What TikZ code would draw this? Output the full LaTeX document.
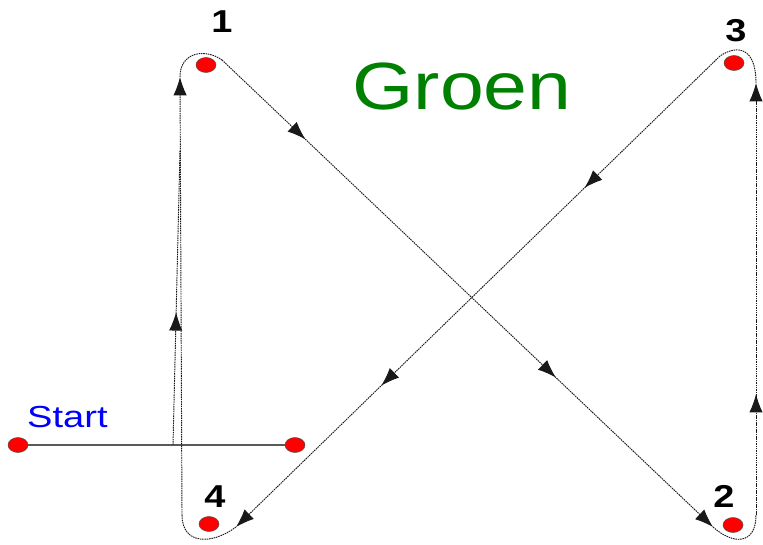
\documentclass[tikz,border=0pt]{standalone}
\usepackage{fontspec}
\setmainfont{Liberation Sans}
\usepackage{xcolor}
\usepackage{tikz}
\usetikzlibrary{arrows.meta,shapes.geometric,decorations.markings}

\begin{document}
\begin{tikzpicture}[
  x=0.03cm, y=-0.03cm,
  dot/.style={ellipse, draw=black!70, line width=0.4pt, fill=red, minimum width=0.6cm, minimum height=0.45cm, inner sep=0pt},
  num/.style={anchor=base, font=\fontsize{27}{27}\selectfont\bfseries},
  route/.style={draw=black!90, line width=0.8pt, dash pattern=on 1.3pt off 0.7pt},
  arrow/.style={-{Latex[length=5.5mm,width=4mm]}},
  midarrow/.style={postaction={decorate, decoration={markings, mark=at position #1 with {\arrow{Latex[length=5.5mm,width=4mm]}}}}},
  startline/.style={draw=black!65, line width=0.9pt},
]
\useasboundingbox (0,0) rectangle (763,545);

\node[dot] (start) at (18,445) {};
\node[dot] (end) at (295,445) {};
\node[dot] (p1) at (206,65) {};
\node[dot] (p2) at (733,525) {};
\node[dot] (p3) at (734,63) {};
\node[dot] (p4) at (209,524) {};

\node[num] (n1) at (222,33) {\scalebox{1.2}[1]{1}};
\node[num] (n2) at (724,507) {\scalebox{1.2}[1]{2}};
\node[num] (n3) at (736,42) {\scalebox{1.2}[1]{3}};
\node[num] (n4) at (215,507) {\scalebox{1.2}[1]{4}};

\node[anchor=base, text=green!50!black, font=\fontsize{57}{57}\selectfont] (title) at (462,110) {\scalebox{1.18}[1]{Groen}};
\node[anchor=base west, inner sep=0pt, text=blue, font=\fontsize{26}{26}\selectfont] (label) at (27,427) {\scalebox{1.25}[1]{Start}};

\coordinate (j1) at (173,445);
\coordinate (m1) at (180,150);
\coordinate (b4) at (182,515);
\coordinate (t1) at (180,77);
\coordinate (c1) at (222,60);
\coordinate (e2) at (713,527);
\coordinate (b2) at (756,515);
\coordinate (t3) at (756,83);
\coordinate (c3) at (720,56);
\coordinate (e4) at (236,527);

\draw[startline] (start) -- (end);

\draw[route, midarrow=0.45] (j1) -- (m1);
\draw[route, arrow] (b4) -- (t1);
\draw[route] (t1) .. controls (180,52) and (205,48) .. (c1);
\draw[route, arrow, midarrow=0.17, midarrow=0.68] (c1) -- (e2);
\draw[route] (e2) .. controls (733,545) and (756,545) .. (b2);
\draw[route, arrow, midarrow=0.28] (b2) -- (t3);
\draw[route] (t3) .. controls (756,48) and (738,44) .. (c3);
\draw[route, arrow, midarrow=0.28, midarrow=0.7] (c3) -- (e4);
\draw[route] (e4) .. controls (212,545) and (182,545) .. (b4);

\end{tikzpicture}
\end{document}
